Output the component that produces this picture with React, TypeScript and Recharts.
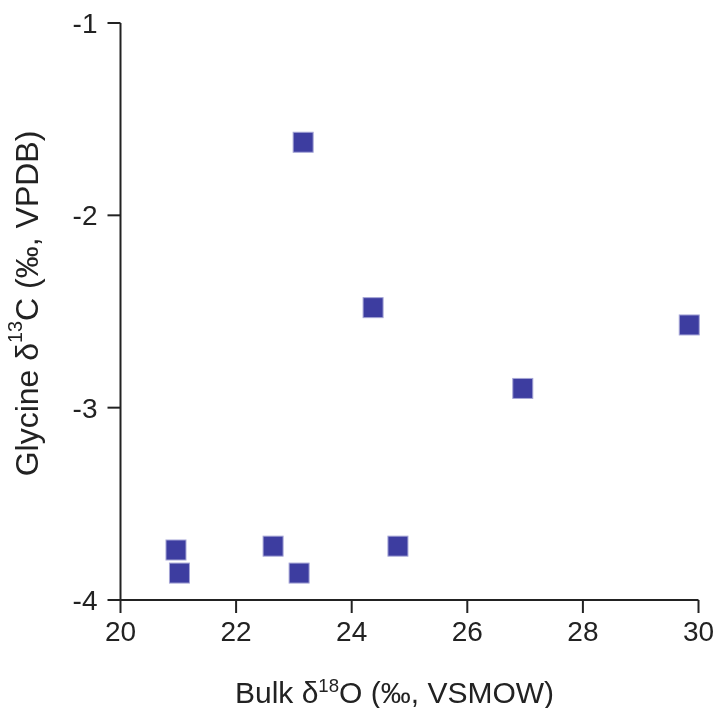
import { ScatterChart, Scatter, XAxis, YAxis } from 'recharts';

const bulkO18 = [23.16, 24.37, 29.84, 26.96, 20.96, 21.02, 22.64, 23.09, 24.8];
const glycineC13 = [-1.62, -2.48, -2.57, -2.9, -3.74, -3.86, -3.72, -3.86, -3.72];
const xTicks = [20, 22, 24, 26, 28, 30];
const yTicks = [-4, -3, -2, -1];

const points = bulkO18.map((x, i) => ({ x, y: glycineC13[i] }));

const FONT = 'Liberation Sans, Arial, Helvetica, sans-serif';
const AXIS_COLOR = '#222';
const MARK_COLOR = '#3d3da0';

const SquareMark = (props: any) => {
  const { cx, cy } = props;
  return (
    <rect
      x={cx - 10}
      y={cy - 10}
      width={20}
      height={20}
      fill={MARK_COLOR}
      stroke="#a5a5d6"
      strokeWidth={1}
    />
  );
};

const XTitle = (props: any) => {
  const { x, y, width } = props.viewBox;
  return (
    <text x={x + width / 2 - 15} y={y + 103} textAnchor="middle" fontFamily={FONT} fontSize={30} fill={AXIS_COLOR}>
      Bulk δ<tspan fontSize="0.62em" dy={-11}>18</tspan>
      <tspan dy={11}>O (‰, VSMOW)</tspan>
    </text>
  );
};

const YTitle = (props: any) => {
  const { x, y, height } = props.viewBox;
  const cx = x + 27;
  const cy = y + height / 2 - 8;
  return (
    <text
      x={cx}
      y={cy}
      transform={`rotate(-90, ${cx}, ${cy})`}
      textAnchor="middle"
      dominantBaseline="central"
      fontFamily={FONT}
      fontSize={32}
      fill={AXIS_COLOR}
    >
      Glycine δ<tspan fontSize="0.62em" dy={-12}>13</tspan>
      <tspan dy={12}>C (‰, VPDB)</tspan>
    </text>
  );
};

export default function App() {
  const tickStyle = { fontFamily: FONT, fontSize: 28, fill: AXIS_COLOR };
  return (
    <div style={{ position: 'fixed', left: 0, top: 0, width: 715, height: 708 }}>
      <ScatterChart
        width={715}
        height={708}
        margin={{ top: 23, right: 16.5, bottom: 0, left: 0 }}
        style={{ overflow: 'visible' }}
      >
        <XAxis
          type="number"
          dataKey="x"
          domain={[20, 30]}
          ticks={xTicks}
          height={108}
          tickSize={13}
          tickMargin={8}
          stroke={AXIS_COLOR}
          strokeWidth={2}
          tick={tickStyle}
          label={<XTitle />}
        />
        <YAxis
          type="number"
          dataKey="y"
          domain={[-4, -1]}
          ticks={yTicks}
          width={120.5}
          tickSize={13}
          tickMargin={10}
          stroke={AXIS_COLOR}
          strokeWidth={2}
          tick={tickStyle}
          label={<YTitle />}
        />
        <Scatter data={points} shape={SquareMark} isAnimationActive={false} />
      </ScatterChart>
    </div>
  );
}
